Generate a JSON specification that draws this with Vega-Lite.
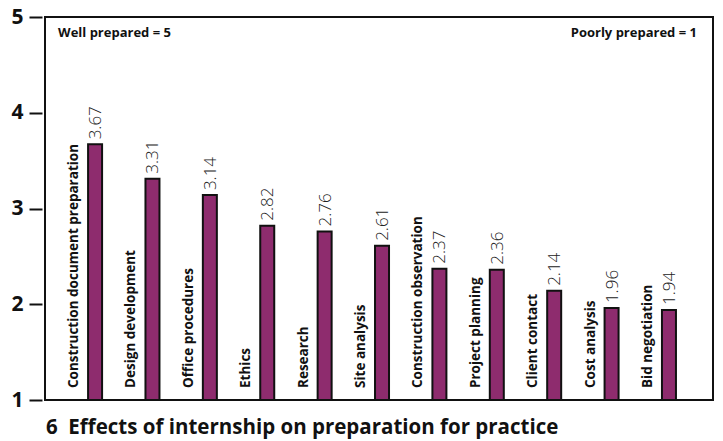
{
  "$schema": "https://vega.github.io/schema/vega-lite/v6.json",
  "autosize": "none",
  "width": 668,
  "height": 383,
  "padding": {"left": 45, "top": 17, "right": 10, "bottom": 41},
  "background": "#ffffff",
  "config": {
    "view": {"stroke": "#111111", "strokeWidth": 2},
    "font": "Open Sans"
  },
  "title": {
    "text": "6\u00a0\u00a0Effects of internship on preparation for practice",
    "orient": "bottom",
    "anchor": "start",
    "offset": 8,
    "dx": 35,
    "font": "Open Sans",
    "fontSize": 20.5,
    "fontWeight": "bold",
    "color": "#111111"
  },
  "data": {
    "values": [
      {"skill": "Construction document preparation", "value": 3.67},
      {"skill": "Design development", "value": 3.31},
      {"skill": "Office procedures", "value": 3.14},
      {"skill": "Ethics", "value": 2.82},
      {"skill": "Research", "value": 2.76},
      {"skill": "Site analysis", "value": 2.61},
      {"skill": "Construction observation", "value": 2.37},
      {"skill": "Project planning", "value": 2.36},
      {"skill": "Client contact", "value": 2.14},
      {"skill": "Cost analysis", "value": 1.96},
      {"skill": "Bid negotiation", "value": 1.94}
    ]
  },
  "encoding": {
    "x": {
      "field": "skill",
      "type": "nominal",
      "sort": null,
      "scale": {"paddingInner": 0, "paddingOuter": 0.32, "align": 0.31},
      "axis": null
    }
  },
  "layer": [
    {
      "mark": {"type": "bar", "width": 14, "xOffset": 10, "color": "#8e2c6e", "stroke": "#111111", "strokeWidth": 2},
      "encoding": {
        "y": {
          "field": "value",
          "type": "quantitative",
          "scale": {"domain": [1, 5], "nice": false, "zero": false},
          "axis": {
            "values": [1, 2, 3, 4, 5],
            "format": "d",
            "title": null,
            "grid": false,
            "domain": false,
            "ticks": true,
            "tickSize": 13,
            "tickWidth": 2,
            "tickColor": "#111111",
            "offset": 3,
            "labelFont": "Open Sans",
            "labelFontSize": 21,
            "labelFontWeight": "bold",
            "labelColor": "#111111",
            "labelPadding": 6
          }
        },
        "y2": {"datum": 1}
      }
    },
    {
      "mark": {"type": "text", "angle": 270, "align": "left", "baseline": "middle", "xOffset": 11, "dx": 5, "font": "Open Sans", "fontWeight": 300, "fontSize": 17, "color": "#222222"},
      "encoding": {
        "y": {"field": "value", "type": "quantitative"},
        "text": {"field": "value", "type": "quantitative", "format": ".2f"}
      }
    },
    {
      "mark": {"type": "text", "angle": 270, "align": "left", "baseline": "middle", "xOffset": -11, "dx": 12, "font": "Open Sans", "fontWeight": "bold", "fontSize": 13.5, "color": "#111111"},
      "encoding": {
        "y": {"datum": 1, "type": "quantitative"},
        "text": {"field": "skill", "type": "nominal"}
      }
    },
    {
      "data": {"values": [{"skill": "Construction document preparation", "note": "Well prepared = 5"}]},
      "mark": {"type": "text", "align": "left", "baseline": "middle", "xOffset": -27, "font": "Open Sans", "fontWeight": "bold", "fontSize": 13, "color": "#111111"},
      "encoding": {
        "y": {"datum": 4.83, "type": "quantitative"},
        "text": {"field": "note", "type": "nominal"}
      }
    },
    {
      "data": {"values": [{"skill": "Bid negotiation", "note": "Poorly prepared = 1"}]},
      "mark": {"type": "text", "align": "right", "baseline": "middle", "xOffset": 38, "font": "Open Sans", "fontWeight": "bold", "fontSize": 13, "color": "#111111"},
      "encoding": {
        "y": {"datum": 4.83, "type": "quantitative"},
        "text": {"field": "note", "type": "nominal"}
      }
    }
  ]
}
